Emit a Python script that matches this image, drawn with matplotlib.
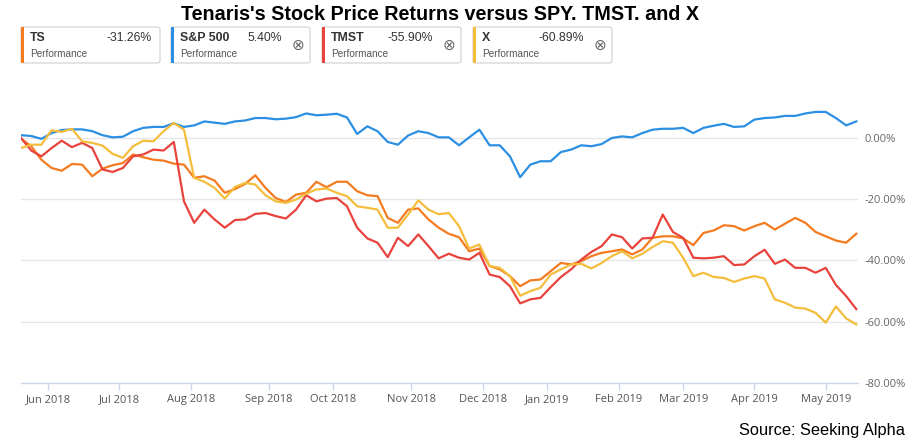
import numpy as np
import pandas as pd
import matplotlib
matplotlib.use("Agg")
import matplotlib.pyplot as plt
from matplotlib.patches import FancyBboxPatch, Rectangle

# ---------------- data ----------------
title = "Tenaris's Stock Price Returns versus SPY. TMST. and X"
holidays = ["2018-05-28", "2018-07-04", "2018-09-03", "2018-11-22", "2018-12-05",
            "2018-12-25", "2019-01-01", "2019-01-21", "2019-02-18", "2019-04-19"]
start_date = "2018-05-21"
end_date = "2019-05-14"
sample_step = 3  # one reading every 3 trading days

series_names = ["TS", "S&P 500", "TMST", "X"]
final_values = [-31.26, 5.40, -55.90, -60.89]
series_colors = ["#F47B20", "#2B8FE3", "#E8433D", "#F5BD3C"]

ts = [-0.2, -2.7, -7.1, -9.8, -10.7, -8.5, -8.7, -12.5, -10.0, -8.9,
      -8.2, -5.4, -6.3, -7.1, -7.4, -8.4, -8.7, -13.0, -12.5, -13.9,
      -17.9, -16.7, -15.0, -12.2, -16.3, -19.6, -20.9, -18.5, -17.9, -14.3,
      -16.1, -14.3, -14.3, -17.4, -18.7, -19.0, -26.1, -27.7, -23.4, -23.0,
      -26.6, -29.3, -31.3, -32.4, -37.0, -36.1, -41.8, -42.9, -45.1, -48.4,
      -46.5, -46.2, -43.5, -40.8, -41.3, -40.2, -38.6, -37.5, -37.0, -36.4,
      -38.0, -36.4, -32.6, -32.1, -32.1, -32.8, -35.0, -31.0, -30.2, -28.5,
      -28.8, -30.2, -28.8, -27.7, -29.9, -28.0, -26.1, -27.7, -30.7, -32.1,
      -33.5, -34.2, -31.26]

spy = [0.9, 0.65, -0.3, 1.6, 2.6, 2.8, 2.8, 2.2, 0.9, 0.2,
       0.4, 2.2, 3.3, 3.6, 3.6, 4.8, 3.6, 4.1, 5.4, 5.0,
       4.6, 5.4, 5.7, 6.5, 6.5, 6.1, 6.3, 6.8, 8.0, 7.4,
       7.6, 7.9, 6.7, 1.3, 3.8, 2.2, -1.3, -2.2, 0.8, 2.2,
       1.6, 0.2, 0.2, -2.4, 0.2, 2.7, -2.4, -2.4, -6.0, -12.8,
       -8.7, -7.6, -7.6, -4.6, -3.8, -2.4, -2.7, -2.0, 0.0, 0.5,
       0.2, 1.6, 2.7, 3.0, 3.0, 3.3, 1.6, 3.3, 4.0, 4.6,
       3.6, 3.8, 6.0, 6.5, 6.7, 7.2, 7.2, 8.0, 8.5, 8.5,
       6.5, 4.1, 5.40]

tmst = [0.0, -4.1, -6.0, -3.3, -0.9, -3.0, -1.6, -3.3, -10.3, -11.1,
        -9.8, -6.0, -5.4, -3.8, -4.1, -1.3, -20.7, -27.7, -23.4, -26.6,
        -29.3, -26.8, -26.6, -24.8, -24.5, -25.5, -26.3, -23.4, -18.7, -20.7,
        -19.8, -19.6, -22.3, -29.3, -32.8, -34.2, -38.9, -32.6, -35.3, -31.5,
        -35.3, -39.3, -37.8, -39.1, -39.7, -37.5, -44.6, -45.4, -48.4, -54.0,
        -52.7, -52.2, -48.7, -45.4, -42.9, -39.7, -37.2, -35.3, -31.5, -32.4,
        -36.1, -32.8, -32.6, -25.0, -30.7, -32.6, -39.1, -39.3, -39.1, -38.6,
        -41.5, -41.3, -38.6, -36.5, -41.1, -39.7, -42.4, -42.4, -44.0, -42.4,
        -48.0, -51.6, -55.90]

x_stock = [-3.3, -2.2, -2.2, 2.5, 2.0, 3.0, -1.1, -1.6, -2.5, -5.2,
           -6.5, -2.7, -0.9, -1.1, 2.2, 4.9, 2.7, -13.0, -14.3, -16.3,
           -19.8, -16.0, -14.7, -15.2, -18.7, -20.7, -21.2, -20.1, -18.2, -16.8,
           -16.5, -17.9, -19.0, -22.3, -22.8, -23.4, -29.3, -29.3, -25.0, -20.4,
           -23.4, -24.9, -24.5, -28.8, -36.1, -34.8, -41.8, -42.4, -45.1, -51.5,
           -50.0, -48.9, -44.6, -42.9, -41.3, -41.1, -42.6, -40.8, -38.6, -37.0,
           -39.3, -37.8, -35.6, -33.7, -34.2, -39.1, -45.1, -44.0, -45.4, -45.7,
           -47.0, -45.9, -45.1, -45.9, -52.7, -53.8, -55.4, -55.7, -57.1, -60.3,
           -55.0, -58.9, -60.89]

y_ticks = [0, -20, -40, -60, -80]

# ---------------- layout ----------------
W, H = 921, 448
fig = plt.figure(figsize=(W / 100, H / 100), dpi=100)
fig.patch.set_facecolor("white")

def fx(px):
    return px / W

def fy(py):
    return 1 - py / H

cal = pd.offsets.CustomBusinessDay(holidays=holidays)
trading_days = pd.date_range(start_date, end_date, freq=cal)
idx_all = np.arange(len(trading_days))
x_idx = idx_all[::sample_step]

ax = fig.add_axes([fx(21), fy(383), fx(858) - fx(21), fy(76.7) - fy(383)])
ax.set_xlim(0, 246.5)
ax.set_ylim(-80, 20)

for name, vals, col in zip(series_names, [ts, spy, tmst, x_stock], series_colors):
    ax.plot(x_idx[:len(vals)], vals, color=col, lw=1.6, solid_joinstyle="round")

for spine in ["top", "left", "right"]:
    ax.spines[spine].set_visible(False)
ax.spines["bottom"].set_color("#ccd6eb")
ax.spines["bottom"].set_linewidth(1.0)

for yv in y_ticks[:-1]:
    ax.axhline(yv, color="#e6e6e6", lw=1.0, zorder=0)

ax.yaxis.tick_right()
ax.set_yticks(y_ticks)
ax.set_yticklabels([f"{v:.2f}%" for v in y_ticks], fontsize=8, color="#666666",
                   family="Open Sans")
ax.tick_params(axis="y", length=0, pad=5)
for lab in ax.get_yticklabels():
    lab.set_horizontalalignment("left")

month_starts = pd.date_range("2018-06-01", "2019-05-01", freq="MS")
tick_idx = trading_days.searchsorted(month_starts)
ax.set_xticks(tick_idx)
ax.set_xticklabels([d.strftime("%b %Y") for d in month_starts], fontsize=8,
                   color="#555555", family="Open Sans")
ax.tick_params(axis="x", length=5, width=1, color="#ccd6eb", pad=3)

# ---------------- title ----------------
fig.text(fx(440), fy(14), title, ha="center", va="center", fontsize=14.2,
         fontweight="bold", family="Liberation Sans")

# ---------------- legend boxes ----------------
box_x = [21, 171, 322, 473]
box_w = 139
box_top, box_bot = 27, 63
for i, (name, val, col) in enumerate(zip(series_names, final_values, series_colors)):
    x0 = box_x[i]
    rect = FancyBboxPatch((fx(x0), fy(box_bot)), fx(box_w), fy(box_top) - fy(box_bot),
                          boxstyle="round,pad=0,rounding_size=0.004",
                          transform=fig.transFigure, facecolor="white",
                          edgecolor="#d0d0d0", lw=0.8)
    fig.patches.append(rect)
    bar = Rectangle((fx(x0), fy(box_bot)), fx(3), fy(box_top) - fy(box_bot),
                    transform=fig.transFigure, facecolor=col, edgecolor="none")
    fig.patches.append(bar)
    fig.text(fx(x0 + 9), fy(38), name, ha="left", va="center", fontsize=8.9,
             fontweight="bold", family="Liberation Sans", color="#333333")
    val_right = x0 + (131 if i == 0 else 111)
    fig.text(fx(val_right), fy(38), f"{val:.2f}%", ha="right", va="center",
             fontsize=8.8, family="Liberation Sans", color="#333333")
    fig.text(fx(x0 + 9), fy(54), "Performance", ha="left", va="center",
             fontsize=7.2, family="Liberation Sans", color="#555555")
    if i > 0:
        fig.text(fx(x0 + 127), fy(45), "\u2297", ha="center", va="center",
                 fontsize=11, family="DejaVu Sans", color="#666666")

# ---------------- source ----------------
fig.text(fx(905), fy(430), "Source: Seeking Alpha", ha="right", va="center",
         fontsize=11.8, family="Liberation Sans", color="black")

fig.savefig("out.png", dpi=100, facecolor="white")
